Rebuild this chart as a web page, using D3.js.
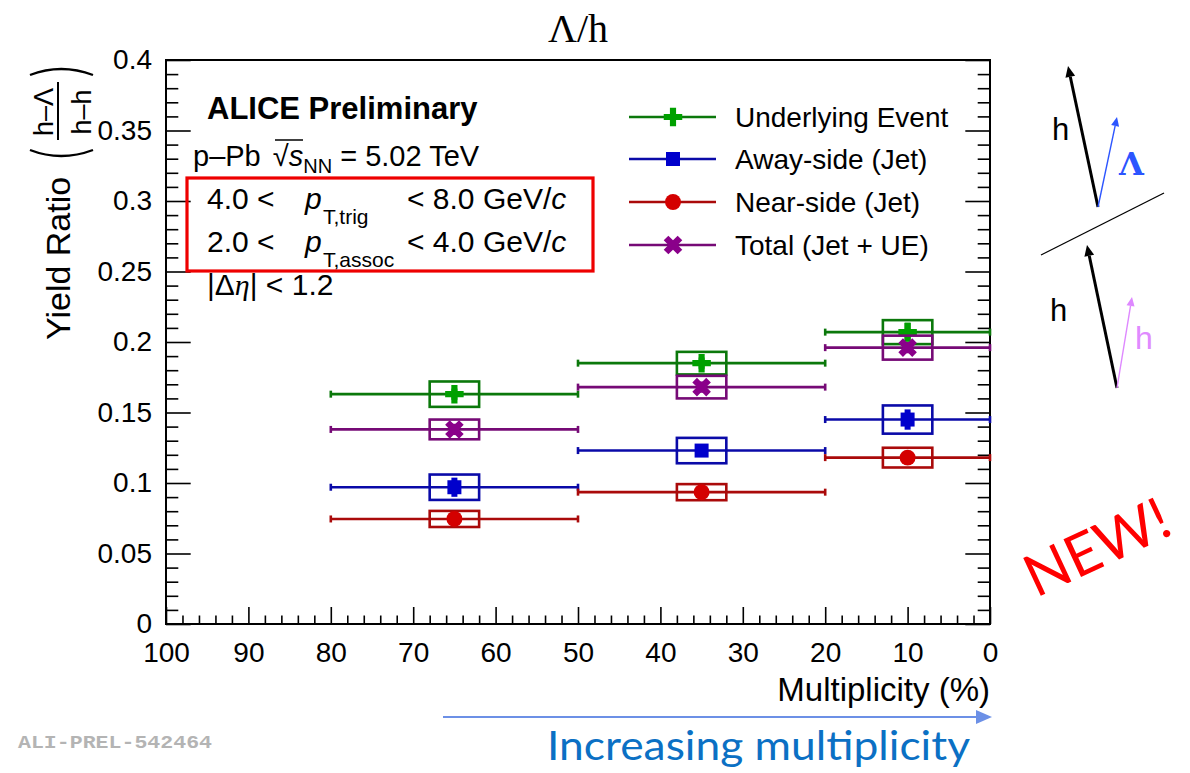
<!DOCTYPE html>
<html>
<head>
<meta charset="utf-8">
<script src="https://cdn.jsdelivr.net/npm/d3@7"></script>
<style>
  html, body { margin: 0; padding: 0; background: #fff; }
  svg { display: block; }
  text { font-family: "Liberation Sans", Arial, Helvetica, sans-serif; }
</style>
</head>
<body>
<svg id="chart" width="1190" height="773"></svg>
<script>
// ---- data ---------------------------------------------------------------
const binLo   = [80, 50, 20];          // multiplicity class lower edge (%)
const binHi   = [50, 20, 0];           // multiplicity class upper edge (%)
const centers = [65, 35, 10];          // point positions (%)

const ueVals     = [0.163, 0.185, 0.207];
const awayVals   = [0.097, 0.123, 0.145];
const nearVals   = [0.0745, 0.0935, 0.118];
const totalVals  = [0.138, 0.168, 0.196];

const ueStat     = [0.004, 0.004, 0.0068];
const awayStat   = [0.0068, 0.004, 0.0072];
const nearStat   = [0.003, 0.003, 0.003];
const totalStat  = [0.004, 0.004, 0.004];

const ueSys      = [0.009, 0.008, 0.0085];
const awaySys    = [0.009, 0.009, 0.010];
const nearSys    = [0.0057, 0.0057, 0.007];
const totalSys   = [0.007, 0.008, 0.0085];

const sysHalfWidth = 3;                // half width of systematic boxes (%)

const seriesNames = ["Underlying Event", "Away-side (Jet)", "Near-side (Jet)", "Total (Jet + UE)"];
const xMajorTicks = d3.range(0, 101, 10);
const xMinorTicks = d3.range(0, 101, 2).filter(v => v % 10 !== 0);
const yMajorTicks = [0, 0.05, 0.1, 0.15, 0.2, 0.25, 0.3, 0.35, 0.4];
const yMinorTicks = d3.range(0, 41, 1).map(v => v / 100).filter((v, i) => i % 5 !== 0);

// ---- setup --------------------------------------------------------------
const svg = d3.select("#chart");
const L = 166, R = 990, T = 60, B = 624;
const x = d3.scaleLinear().domain([100, 0]).range([L, R]);
const y = d3.scaleLinear().domain([0, 0.4]).range([B, T]);

const series = [
  { name: seriesNames[0], vals: ueVals,    stat: ueStat,    sys: ueSys,    line: "#0b780b", fill: "#00a000", shape: "plus" },
  { name: seriesNames[1], vals: awayVals,  stat: awayStat,  sys: awaySys,  line: "#0a0aa8", fill: "#0000cc", shape: "square" },
  { name: seriesNames[2], vals: nearVals,  stat: nearStat,  sys: nearSys,  line: "#aa0a0a", fill: "#d40000", shape: "circle" },
  { name: seriesNames[3], vals: totalVals, stat: totalStat, sys: totalSys, line: "#760a76", fill: "#8a008a", shape: "x" }
];

function markerPath(shape) {
  if (shape === "plus")   return d3.symbol(d3.symbolCross, 190)();
  if (shape === "square") return d3.symbol(d3.symbolSquare, 196)();
  if (shape === "circle") return d3.symbol(d3.symbolCircle, 200)();
  return d3.symbol(d3.symbolCross, 215)();
}
function markerRot(shape) { return shape === "x" ? 45 : 0; }

// ---- title --------------------------------------------------------------
svg.append("text")
  .attr("x", 578).attr("y", 42)
  .attr("text-anchor", "middle")
  .style("font-family", "'Liberation Serif', 'DejaVu Serif', serif")
  .style("font-size", "40px")
  .text("Λ/h");

// ---- axes ---------------------------------------------------------------
const tickFont = "28px";

svg.append("g").attr("transform", `translate(0,${B})`)
  .call(d3.axisBottom(x).tickValues(xMajorTicks).tickSize(-17).tickPadding(18).tickFormat(d3.format("d")));
svg.append("g").attr("transform", `translate(0,${B})`)
  .call(d3.axisBottom(x).tickValues(xMinorTicks).tickSize(-8.5).tickFormat(""));

const yFmt = d => d === 0 ? "0" : String(+d.toFixed(2));
svg.append("g").attr("transform", `translate(${L},0)`)
  .call(d3.axisLeft(y).tickValues(yMajorTicks).tickSize(-24.7).tickPadding(14).tickFormat(yFmt));
svg.append("g").attr("transform", `translate(${L},0)`)
  .call(d3.axisLeft(y).tickValues(yMinorTicks).tickSize(-12.3).tickFormat(""));
svg.append("g").attr("transform", `translate(${R},0)`)
  .call(d3.axisRight(y).tickValues(yMajorTicks).tickSize(-24.7).tickFormat(""));
svg.append("g").attr("transform", `translate(${R},0)`)
  .call(d3.axisRight(y).tickValues(yMinorTicks).tickSize(-12.3).tickFormat(""));

svg.selectAll(".domain").remove();
svg.selectAll(".tick line").attr("stroke", "#000").attr("stroke-width", 1.6);
svg.selectAll(".tick text").style("font-size", tickFont).style("font-family", "'Liberation Sans', Arial, sans-serif").attr("fill", "#000");

// frame
svg.append("rect")
  .attr("x", L).attr("y", T).attr("width", R - L).attr("height", B - T)
  .attr("fill", "none").attr("stroke", "#000").attr("stroke-width", 2);

// x axis title
svg.append("text")
  .attr("x", R).attr("y", 701)
  .attr("text-anchor", "end")
  .style("font-size", "33px")
  .text("Multiplicity (%)");

// y axis title: Yield Ratio (h–Λ / h–h), rotated
const yt = svg.append("g").attr("transform", "translate(70,340) rotate(-90)");
yt.append("text").attr("x", 0).attr("y", 0)
  .style("font-size", "34px")
  .text("Yield Ratio");
yt.append("path")
  .attr("d", "M190,-40 Q178,-9 190,23")
  .attr("fill", "none").attr("stroke", "#000").attr("stroke-width", 2.4);
yt.append("path")
  .attr("d", "M265,-40 Q277,-9 265,23")
  .attr("fill", "none").attr("stroke", "#000").attr("stroke-width", 2.4);
yt.append("text").attr("x", 228).attr("y", -17)
  .attr("text-anchor", "middle").style("font-size", "27px").text("h–Λ");
yt.append("line").attr("x1", 200).attr("x2", 258).attr("y1", -12).attr("y2", -12)
  .attr("stroke", "#000").attr("stroke-width", 2);
yt.append("text").attr("x", 228).attr("y", 21)
  .attr("text-anchor", "middle").style("font-size", "27px").text("h–h");

// ---- data marks ---------------------------------------------------------
const plot = svg.append("g");

series.forEach(s => {
  const g = plot.append("g");
  const idx = d3.range(s.vals.length);

  // horizontal bin-width bars with end caps
  g.selectAll("line.hbar").data(idx).join("line")
    .attr("x1", i => x(binLo[i])).attr("x2", i => x(binHi[i]))
    .attr("y1", i => y(s.vals[i])).attr("y2", i => y(s.vals[i]))
    .attr("stroke", s.line).attr("stroke-width", 2.6);
  g.selectAll("line.capL").data(idx).join("line")
    .attr("x1", i => x(binLo[i])).attr("x2", i => x(binLo[i]))
    .attr("y1", i => y(s.vals[i]) - 3.5).attr("y2", i => y(s.vals[i]) + 3.5)
    .attr("stroke", s.line).attr("stroke-width", 2.6);
  g.selectAll("line.capR").data(idx).join("line")
    .attr("x1", i => x(binHi[i])).attr("x2", i => x(binHi[i]))
    .attr("y1", i => y(s.vals[i]) - 3.5).attr("y2", i => y(s.vals[i]) + 3.5)
    .attr("stroke", s.line).attr("stroke-width", 2.6);

  // systematic uncertainty boxes
  g.selectAll("rect.sys").data(idx).join("rect")
    .attr("x", i => x(centers[i] + sysHalfWidth))
    .attr("width", i => x(centers[i] - sysHalfWidth) - x(centers[i] + sysHalfWidth))
    .attr("y", i => y(s.vals[i] + s.sys[i]))
    .attr("height", i => y(s.vals[i] - s.sys[i]) - y(s.vals[i] + s.sys[i]))
    .attr("fill", "none").attr("stroke", s.line).attr("stroke-width", 2.6);

  // statistical uncertainties
  g.selectAll("line.stat").data(idx).join("line")
    .attr("x1", i => x(centers[i])).attr("x2", i => x(centers[i]))
    .attr("y1", i => y(s.vals[i] + s.stat[i])).attr("y2", i => y(s.vals[i] - s.stat[i]))
    .attr("stroke", s.fill).attr("stroke-width", 6);

  // markers
  g.selectAll("path.mk").data(idx).join("path")
    .attr("d", markerPath(s.shape))
    .attr("transform", i => `translate(${x(centers[i])},${y(s.vals[i])}) rotate(${markerRot(s.shape)})`)
    .attr("fill", s.fill);
});

// ---- legend -------------------------------------------------------------
const legendRows = [117, 159, 202, 245];
const lg = svg.append("g");
series.forEach((s, k) => {
  const yy = legendRows[k];
  lg.append("line").attr("x1", 629).attr("x2", 716).attr("y1", yy).attr("y2", yy)
    .attr("stroke", s.line).attr("stroke-width", 2.6);
  lg.append("path").attr("d", markerPath(s.shape))
    .attr("transform", `translate(673,${yy}) rotate(${markerRot(s.shape)})`)
    .attr("fill", s.fill);
  lg.append("text").attr("x", 735).attr("y", yy + 10)
    .style("font-size", "28px").text(s.name);
});

// ---- annotation text ----------------------------------------------------
const info = svg.append("g").style("font-size", "30px");
info.append("text").attr("x", 207).attr("y", 119)
  .style("font-weight", "bold").style("font-size", "31px").text("ALICE Preliminary");

const pp = info.append("text").attr("x", 193).attr("y", 166).style("font-size", "29px");
pp.append("tspan").text("p–Pb ");
pp.append("tspan").attr("dx", 4).text("\u221A");
pp.append("tspan").style("font-style", "italic").text("s");
pp.append("tspan").attr("dy", 7).style("font-size", "20px").text("NN");
pp.append("tspan").attr("dy", -7).text(" = 5.02 TeV");
// radical overbar
info.append("line").attr("x1", 275).attr("x2", 303).attr("y1", 140).attr("y2", 140)
  .attr("stroke", "#000").attr("stroke-width", 1.5);

function ptLine(yb, lo, sub, hi) {
  info.append("text").attr("x", 207).attr("y", yb).text(lo + " <");
  info.append("text").attr("x", 305).attr("y", yb).style("font-style", "italic").text("p");
  info.append("text").attr("x", 323).attr("y", yb + 15).style("font-size", "21px").text(sub);
  const t = info.append("text").attr("x", 407).attr("y", yb);
  t.append("tspan").text("< " + hi + " GeV/");
  t.append("tspan").style("font-style", "italic").text("c");
}
ptLine(209, "4.0", "T,trig", "8.0");
ptLine(252, "2.0", "T,assoc", "4.0");

const eta = info.append("text").attr("x", 207).attr("y", 295);
eta.append("tspan").text("|Δ");
eta.append("tspan").style("font-style", "italic").style("font-family", "'Liberation Serif', serif").text("η");
eta.append("tspan").text("| < 1.2");

svg.append("rect").attr("x", 187).attr("y", 178).attr("width", 406).attr("height", 93)
  .attr("fill", "none").attr("stroke", "#ee0000").attr("stroke-width", 3.2);

// ---- correlation sketch -------------------------------------------------
function arrow(x1, y1, x2, y2, color, w, head) {
  const a = Math.atan2(y2 - y1, x2 - x1);
  const bx = x2 - head * Math.cos(a), by = y2 - head * Math.sin(a);
  svg.append("line").attr("x1", x1).attr("y1", y1).attr("x2", bx).attr("y2", by)
    .attr("stroke", color).attr("stroke-width", w);
  const hw = head * 0.45;
  const p = [
    [x2, y2],
    [bx + hw * Math.sin(a), by - hw * Math.cos(a)],
    [bx - hw * Math.sin(a), by + hw * Math.cos(a)]
  ];
  svg.append("path").attr("d", "M" + p.map(q => q.join(",")).join("L") + "Z").attr("fill", color);
}
arrow(1098, 207, 1068, 66, "#000", 3, 11);
arrow(1098, 207, 1117, 117, "#2c55ff", 1.4, 9);
svg.append("line").attr("x1", 1041).attr("y1", 255).attr("x2", 1164).attr("y2", 193)
  .attr("stroke", "#000").attr("stroke-width", 1.3);
arrow(1117, 388, 1087, 245, "#000", 3, 11);
arrow(1117, 388, 1132, 297, "#de88ff", 1.4, 9);

svg.append("text").attr("x", 1052).attr("y", 140).style("font-size", "31px").text("h");
svg.append("text").attr("x", 1119).attr("y", 175).style("font-size", "32px")
  .style("font-weight", "bold").style("font-family", "'DejaVu Serif', serif").attr("fill", "#2c55ff").text("Λ");
svg.append("text").attr("x", 1050).attr("y", 321).style("font-size", "31px").text("h");
svg.append("text").attr("x", 1135).attr("y", 349).style("font-size", "32px").attr("fill", "#e08aff").text("h");

// ---- NEW! ---------------------------------------------------------------
svg.append("text")
  .attr("transform", "translate(1036,598) rotate(-25)")
  .style("font-family", "Lato, 'Open Sans', sans-serif").style("font-size", "58px")
  .attr("fill", "#ff0000").text("NEW!");

// ---- multiplicity arrow and label ---------------------------------------
svg.append("line").attr("x1", 443).attr("x2", 977).attr("y1", 717).attr("y2", 717)
  .attr("stroke", "#6c90e6").attr("stroke-width", 2);
svg.append("path").attr("d", "M992,717 L976,710 L976,724 Z").attr("fill", "#6c90e6");
svg.append("text").attr("x", 547).attr("y", 760)
  .attr("textLength", 423).attr("lengthAdjust", "spacingAndGlyphs")
  .style("font-family", "Lato, 'Open Sans', sans-serif").style("font-size", "41px")
  .attr("fill", "#0b70c4").text("Increasing multiplicity");

// ---- figure id ----------------------------------------------------------
svg.append("text").attr("x", 18).attr("y", 748)
  .attr("textLength", 194).attr("lengthAdjust", "spacingAndGlyphs")
  .style("font-family", "'Liberation Mono', 'DejaVu Sans Mono', monospace")
  .style("font-size", "19px").style("font-weight", "bold")
  .attr("fill", "#b4b4b4").text("ALI-PREL-542464");
</script>
</body>
</html>
